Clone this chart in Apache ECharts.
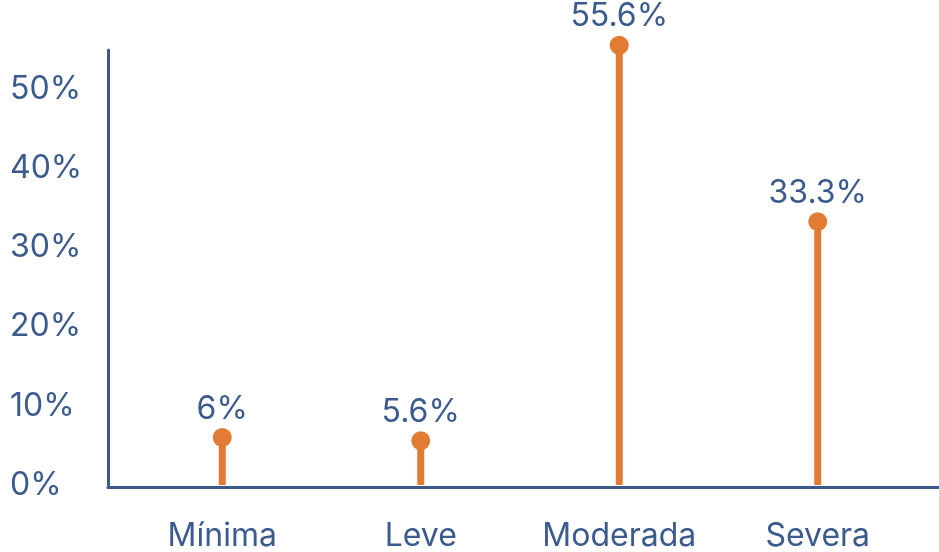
<!DOCTYPE html>
<html>
<head>
<meta charset="utf-8">
<script src="https://cdn.jsdelivr.net/npm/echarts@6/dist/echarts.min.js"></script>
<style>
html,body{margin:0;padding:0;background:#fff;}
#chart{width:939px;height:552px;}
</style>
</head>
<body>
<div id="chart"></div>
<script>
const categories = ['Mínima', 'Leve', 'Moderada', 'Severa'];
const values = [6, 5.6, 55.6, 33.3];
const valueLabels = ['6%', '5.6%', '55.6%', '33.3%'];
const yTicks = [0, 10, 20, 30, 40, 50];

const navy = '#3b5a8e';
const orange = '#e27b34';
const font = 'Inter';

const chart = echarts.init(document.getElementById('chart'));
chart.setOption({
  animation: false,
  grid: [
    { left: 123, right: 22, top: 50, bottom: 65 },
    { left: 108, right: 0, top: 50, bottom: 65 }
  ],
  xAxis: [
    {
      type: 'category', gridIndex: 0, data: categories,
      axisLine: { show: false }, axisTick: { show: false },
      axisLabel: { color: navy, fontSize: 32, fontFamily: font, margin: 35, interval: 0, hideOverlap: false }
    },
    {
      type: 'category', gridIndex: 1, data: categories,
      axisLine: { show: true, lineStyle: { color: navy, width: 3 } },
      axisTick: { show: false }, axisLabel: { show: false }
    }
  ],
  yAxis: [
    {
      type: 'value', gridIndex: 0, min: 0, max: 55, interval: 10, offset: 15,
      axisLine: { show: true, lineStyle: { color: navy, width: 3 } },
      axisTick: { show: false }, splitLine: { show: false },
      axisLabel: {
        color: navy, fontSize: 32, fontFamily: font, align: 'left', margin: 98,
        padding: [0, 0, 7, 0],
        formatter: v => (yTicks.indexOf(v) >= 0 ? v + '%' : '')
      }
    },
    { type: 'value', gridIndex: 1, min: 0, max: 55, show: false }
  ],
  series: [
    {
      type: 'bar', xAxisIndex: 0, yAxisIndex: 0, data: values, barWidth: 7,
      itemStyle: { color: orange }, clip: false, silent: true
    },
    {
      type: 'scatter', xAxisIndex: 0, yAxisIndex: 0, data: values, symbolSize: 19,
      itemStyle: { color: orange, opacity: 1 }, clip: false,
      label: {
        show: true, position: 'top', distance: 3, color: navy, fontSize: 32, fontFamily: font,
        formatter: p => valueLabels[p.dataIndex]
      }
    }
  ]
});
</script>
</body>
</html>
